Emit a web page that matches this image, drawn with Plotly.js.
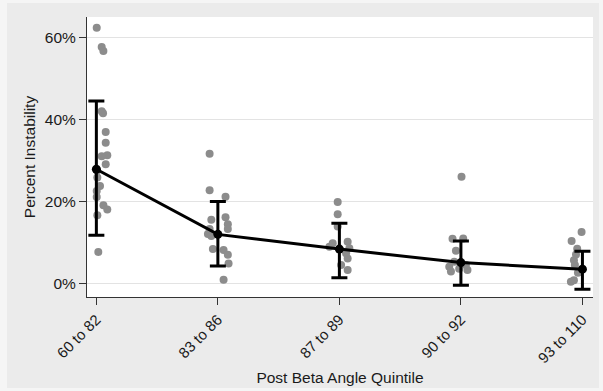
<!DOCTYPE html>
<html>
<head>
<meta charset="utf-8">
<script src="https://cdn.plot.ly/plotly-3.0.1.min.js"></script>
<style>html,body{margin:0;padding:0;background:#ebebeb;}#chart{width:603px;height:391px;}</style>
</head>
<body>
<div id="chart"></div>
<script>
// Category labels
var categories = ["60 to 82", "83 to 86", "87 to 89", "90 to 92", "93 to 110"];
var catPos = [1, 2, 3, 4, 5];

// Y tick labels
var yTickVals = [0, 20, 40, 60];
var yTickText = ["0%", "20%", "40%", "60%"];

// Group means and 95% CI (percent)
var means = [27.8, 11.9, 8.3, 5.0, 3.4];
var ciUpper = [44.5, 19.9, 14.6, 10.3, 7.8];
var ciLower = [11.7, 4.2, 1.3, -0.5, -1.5];

// Individual observations (percent) and horizontal jitter (category units)
var g1Vals = [62.4, 57.7, 56.7, 42.0, 41.5, 36.9, 34.3, 31.2, 31.0, 29.0, 27.5, 25.8, 23.7, 22.5, 21.0, 19.0, 18.0, 16.6, 7.6];
var g1Jit  = [0.003, 0.044, 0.058, 0.044, 0.055, 0.077, 0.077, 0.09, 0.044, 0.077, 0.006, 0.008, 0.03, 0.003, 0.003, 0.058, 0.09, 0.008, 0.016];
var g2Vals = [31.6, 22.7, 21.1, 15.5, 16.1, 14.4, 13.2, 13.2, 12.0, 11.5, 8.3, 8.1, 6.9, 4.8, 0.8];
var g2Jit  = [-0.068, -0.068, 0.063, -0.054, 0.063, 0.082, -0.068, 0.082, -0.082, -0.054, -0.041, 0.047, 0.082, 0.088, 0.047];
var g3Vals = [19.8, 16.8, 13.8, 9.7, 10.1, 8.5, 8.9, 6.0, 4.4, 3.2, 7.3];
var g3Jit  = [-0.014, -0.014, -0.014, -0.055, 0.068, 0.082, -0.082, 0.068, 0.014, 0.068, 0.055];
var g4Vals = [26.0, 10.8, 10.9, 7.9, 5.2, 4.0, 2.8, 3.2, 4.4, 3.5];
var g4Jit  = [0.005, -0.069, 0.019, -0.041, -0.055, -0.096, -0.082, 0.054, 0.041, -0.014];
var g5Vals = [12.5, 10.3, 8.4, 5.6, 4.4, 7.0, 0.3, 0.7, 2.5];
var g5Jit  = [-0.007, -0.089, -0.043, -0.07, -0.062, -0.053, -0.095, -0.07, -0.037];

var groups = [[g1Vals, g1Jit], [g2Vals, g2Jit], [g3Vals, g3Jit], [g4Vals, g4Jit], [g5Vals, g5Jit]];
var px = [], py = [];
groups.forEach(function (g, i) {
  g[0].forEach(function (v, j) { px.push(catPos[i] + g[1][j]); py.push(v); });
});

var pts = {
  x: px, y: py, type: 'scatter', mode: 'markers',
  marker: {color: '#8c8c8c', size: 8},
  hoverinfo: 'skip', showlegend: false
};
var meanTrace = {
  x: catPos, y: means, type: 'scatter', mode: 'lines+markers',
  line: {color: '#000000', width: 3},
  marker: {color: '#000000', size: 9},
  error_y: {
    type: 'data', symmetric: false,
    array: means.map(function (m, i) { return ciUpper[i] - m; }),
    arrayminus: means.map(function (m, i) { return m - ciLower[i]; }),
    color: '#000000', thickness: 3, width: 8
  },
  showlegend: false
};

// light outer frame bands (pixel -> paper conversion)
var L = 87, R = 593, T = 17, B = 297, W = 603, H = 391;
function xp(p) { return (p - L) / (R - L); }
function yp(p) { return (B - p) / (B - T); }
var band = '#f5f5f5';
var shapes = [
  {type: 'rect', xref: 'paper', yref: 'paper', x0: xp(0), x1: xp(7), y0: yp(H), y1: yp(0), fillcolor: band, line: {width: 0}},
  {type: 'rect', xref: 'paper', yref: 'paper', x0: xp(0), x1: xp(W), y0: yp(3), y1: yp(0), fillcolor: band, line: {width: 0}},
  {type: 'rect', xref: 'paper', yref: 'paper', x0: xp(599), x1: xp(W), y0: yp(H), y1: yp(0), fillcolor: band, line: {width: 0}},
  {type: 'rect', xref: 'paper', yref: 'paper', x0: xp(0), x1: xp(W), y0: yp(H), y1: yp(388), fillcolor: band, line: {width: 0}}
];

var layout = {
  width: 603, height: 391,
  margin: {l: L, r: W - R, t: T, b: H - B},
  paper_bgcolor: '#ebebeb',
  plot_bgcolor: '#ffffff',
  font: {family: 'Liberation Sans, Arial, sans-serif', size: 15, color: '#1a1a1a'},
  shapes: shapes,
  xaxis: {
    range: [0.923, 5.087],
    tickmode: 'array', tickvals: catPos, ticktext: categories,
    tickangle: -45,
    ticks: 'outside', ticklen: 7, tickcolor: '#333333', tickwidth: 1,
    showline: true, linecolor: '#333333', linewidth: 1,
    showgrid: false, zeroline: false,
    tickfont: {size: 15},
    title: {text: 'Post Beta Angle Quintile', font: {size: 15.5}, standoff: 6}
  },
  yaxis: {
    range: [-3.4, 65],
    tickmode: 'array', tickvals: yTickVals, ticktext: yTickText,
    ticks: 'outside', ticklen: 7, tickcolor: '#333333', tickwidth: 1,
    showline: true, linecolor: '#333333', linewidth: 1,
    showgrid: true, gridcolor: '#e3e3e3', gridwidth: 1,
    zeroline: false,
    tickfont: {size: 15.5},
    title: {text: 'Percent Instability', font: {size: 15.5}, standoff: 5}
  }
};

Plotly.newPlot('chart', [pts, meanTrace], layout, {displayModeBar: false, staticPlot: true});
</script>
</body>
</html>
